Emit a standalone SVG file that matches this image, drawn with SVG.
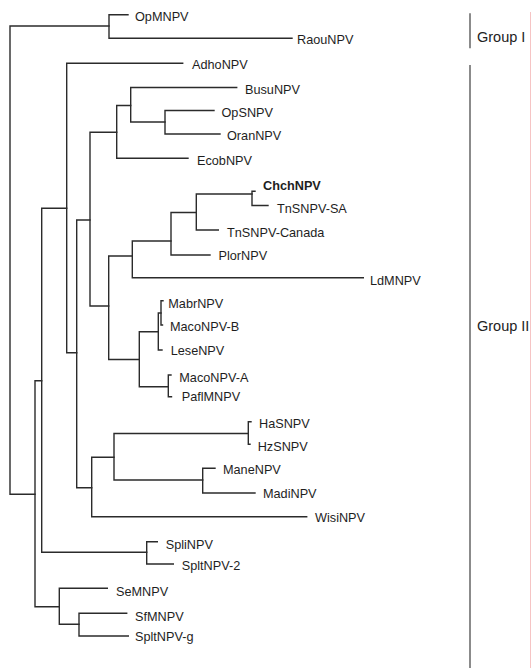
<svg xmlns="http://www.w3.org/2000/svg" width="531" height="668" viewBox="0 0 531 668">
<style>
.br{fill:none;stroke:#2b2b2b;stroke-width:1.4;stroke-linecap:square;stroke-linejoin:miter}
.lb{font-family:"Liberation Sans",Arial,sans-serif;font-size:12.7px;fill:#1e1e1e}
.bd{font-weight:bold}
.gb{stroke:#6e6e6e;stroke-width:1.6;fill:none}
.gl{font-family:"Liberation Sans",Arial,sans-serif;font-size:14.5px;fill:#222}
</style>
<rect width="531" height="668" fill="#fff"/>
<g id="connectors">
<path class="br" d="M109,26 H10 V494.3 H35"/>
<path class="br" d="M128,14.7 H109 V38.3 H292"/>
<path class="br" d="M41.7,380.7 H35 V606.7 H59.3"/>
<path class="br" d="M66.7,208.3 H41.7 V552.3 H146.7"/>
<path class="br" d="M182.7,63.3 H66.7 V352.7 H76.7"/>
<path class="br" d="M90,220 H76.7 V487.7 H91.7"/>
<path class="br" d="M116.7,132.3 H90 V306 H108.7"/>
<path class="br" d="M130.7,105.5 H116.7 V158.3 H188"/>
<path class="br" d="M236.7,87.5 H130.7 V122 H165"/>
<path class="br" d="M214,110.5 H165 V134 H220"/>
<path class="br" d="M132.3,256 H108.7 V359.5 H139.3"/>
<path class="br" d="M171,241 H132.3 V277.7 H363.3"/>
<path class="br" d="M196.3,212.5 H171 V255 H210"/>
<path class="br" d="M252,194 H196.3 V230 H218.3"/>
<path class="br" d="M255,191.3 H252 V205.5 H268"/>
<path class="br" d="M158.3,331.7 H139.3 V386.7 H168.3"/>
<path class="br" d="M161,313 H158.3 V350 H162"/>
<path class="br" d="M163,300.7 H161 V325 H162.5"/>
<path class="br" d="M171,375 H168.3 V396.7 H171.5"/>
<path class="br" d="M114,457.3 H91.7 V516.7 H306.7"/>
<path class="br" d="M248.3,433.5 H114 V480 H202.7"/>
<path class="br" d="M251,421.7 H248.3 V444.3 H250"/>
<path class="br" d="M215,468.3 H202.7 V493 H255"/>
<path class="br" d="M157.3,541.7 H146.7 V564 H173.3"/>
<path class="br" d="M107.3,588.3 H59.3 V624.3 H79"/>
<path class="br" d="M126.7,613.3 H79 V636 H128.3"/>
</g>
<g id="OpMNPV"><text class="lb" x="135" y="21">OpMNPV</text></g>
<g id="RaouNPV"><text class="lb" x="297" y="43.5">RaouNPV</text></g>
<g id="AdhoNPV"><text class="lb" x="192" y="68.5">AdhoNPV</text></g>
<g id="BusuNPV"><text class="lb" x="245" y="93.5">BusuNPV</text></g>
<g id="OpSNPV"><text class="lb" x="221.5" y="116.5">OpSNPV</text></g>
<g id="OranNPV"><text class="lb" x="227" y="140">OranNPV</text></g>
<g id="EcobNPV"><text class="lb" x="197" y="164.5">EcobNPV</text></g>
<g id="ChchNPV"><text class="lb bd" x="263" y="189.5">ChchNPV</text></g>
<g id="TnSNPV-SA"><text class="lb" x="277" y="212.5">TnSNPV-SA</text></g>
<g id="TnSNPV-Canada"><text class="lb" x="227" y="236.5">TnSNPV-Canada</text></g>
<g id="PlorNPV"><text class="lb" x="218.5" y="259.5">PlorNPV</text></g>
<g id="LdMNPV"><text class="lb" x="370" y="285">LdMNPV</text></g>
<g id="MabrNPV"><text class="lb" x="168.3" y="307.5">MabrNPV</text></g>
<g id="MacoNPV-B"><text class="lb" x="170" y="330.5">MacoNPV-B</text></g>
<g id="LeseNPV"><text class="lb" x="170.7" y="354.5">LeseNPV</text></g>
<g id="MacoNPV-A"><text class="lb" x="179.3" y="381.5">MacoNPV-A</text></g>
<g id="PaflMNPV"><text class="lb" x="181.7" y="401">PaflMNPV</text></g>
<g id="HaSNPV"><text class="lb" x="259" y="427.5">HaSNPV</text></g>
<g id="HzSNPV"><text class="lb" x="257.7" y="451">HzSNPV</text></g>
<g id="ManeNPV"><text class="lb" x="223" y="474">ManeNPV</text></g>
<g id="MadiNPV"><text class="lb" x="263" y="498">MadiNPV</text></g>
<g id="WisiNPV"><text class="lb" x="315" y="522">WisiNPV</text></g>
<g id="SpliNPV"><text class="lb" x="165.7" y="549">SpliNPV</text></g>
<g id="SpltNPV-2"><text class="lb" x="181.7" y="569.5">SpltNPV-2</text></g>
<g id="SeMNPV"><text class="lb" x="116" y="596">SeMNPV</text></g>
<g id="SfMNPV"><text class="lb" x="135" y="621">SfMNPV</text></g>
<g id="SpltNPV-g"><text class="lb" x="135" y="641">SpltNPV-g</text></g>
<g id="group-I"><path class="gb" d="M470,13.3 V48.3"/><text class="gl" x="477" y="42">Group I</text></g>
<g id="group-II"><path class="gb" d="M470,65 V668"/><text class="gl" x="477" y="331">Group II</text></g>
<path d="M530.5,12 V668" stroke="#f6c4c4" stroke-width="1" fill="none"/>
</svg>
